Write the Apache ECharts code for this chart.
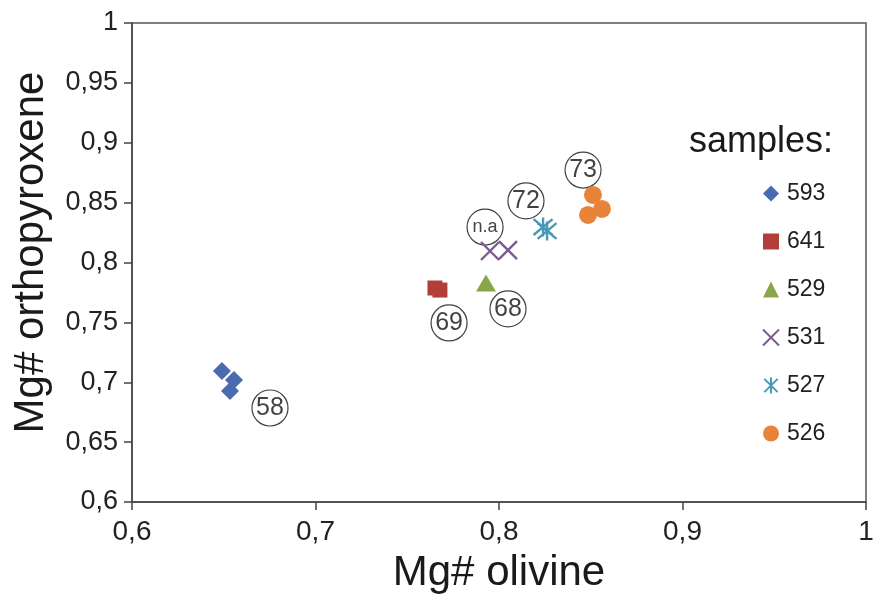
<!DOCTYPE html>
<html>
<head>
<meta charset="utf-8">
<style>
  html, body { margin: 0; padding: 0; background: #fff; }
  #chart { width: 878px; height: 597px; }
</style>
<script src="https://cdn.jsdelivr.net/npm/echarts@6/dist/echarts.min.js"></script>
</head>
<body>
<div id="chart"></div>
<script>
// sample names, in legend order
var sampleNames = ['593', '641', '529', '531', '527', '526'];

// Mg# olivine / Mg# orthopyroxene for each sample
var olivine593 = [0.649, 0.6556, 0.6534];
var opx593 = [0.7094, 0.7019, 0.6927];
var olivine641 = [0.7651, 0.7678];
var opx641 = [0.7787, 0.777];
var olivine529 = [0.7929];
var opx529 = [0.7829];
var olivine531 = [0.7951, 0.8049];
var opx531 = [0.8096, 0.8104];
var olivine527 = [0.824, 0.8262];
var opx527 = [0.8296, 0.8263];
var olivine526 = [0.8512, 0.8485, 0.8561];
var opx526 = [0.8564, 0.8397, 0.8447];

// circled numbers next to the groups
var noteText = ['58', '69', '68', 'n.a', '72', '73'];
var noteX = [0.6752, 0.7728, 0.8049, 0.7924, 0.8147, 0.8458];
var noteY = [0.6785, 0.7495, 0.7612, 0.8296, 0.8514, 0.8772];

var sampleX = [olivine593, olivine641, olivine529, olivine531, olivine527, olivine526];
var sampleY = [opx593, opx641, opx529, opx531, opx527, opx526];

var colors = ['#4a6baf', '#b23e3a', '#8aa64a', '#7d5b91', '#4a98b8', '#e8843a'];
var symbols = [
  'path://M5,0L10,5L5,10L0,5Z',
  'rect',
  'triangle',
  'path://M0,0L10,10M10,0L0,10',
  'path://M0,0L10,10M10,0L0,10M5,-1L5,11',
  'circle'
];
var sizes = [18, 15, [20, 17], 18, 19, 18];
var stroked = [false, false, false, true, true, false];

function pairs(xs, ys) {
  return xs.map(function (x, i) { return [x, ys[i]]; });
}

function comma(v) {
  return String(+v.toFixed(2)).replace('.', ',');
}

var font = 'Liberation Sans, Arial, sans-serif';

var series = [{
  name: 'notes',
  type: 'scatter',
  symbol: 'circle',
  symbolSize: 36,
  z: 1,
  itemStyle: { color: '#fff', borderColor: '#111', borderWidth: 1.2 },
  label: {
    show: true,
    position: 'inside',
    color: '#111',
    fontFamily: font,
    fontSize: 25,
    formatter: function (p) { return noteText[p.dataIndex]; }
  },
  data: pairs(noteX, noteY).map(function (d, i) {
    return noteText[i] === 'n.a'
      ? { value: d, label: { fontSize: 18 } }
      : d;
  })
}];

sampleNames.forEach(function (name, i) {
  series.push({
    name: name,
    type: 'scatter',
    symbol: symbols[i],
    symbolSize: sizes[i],
    z: 3,
    itemStyle: stroked[i]
      ? { color: 'rgba(0,0,0,0)', borderColor: colors[i], borderWidth: 2.4, opacity: 1 }
      : { color: colors[i], opacity: 1 },
    data: pairs(sampleX[i], sampleY[i])
  });
});

var chart = echarts.init(document.getElementById('chart'));
chart.setOption({
  animation: false,
  title: {
    text: 'samples:',
    left: 684,
    top: 119,
    textStyle: { fontFamily: font, fontSize: 36, fontWeight: 'normal', color: '#1a1a1a' }
  },
  legend: {
    data: sampleNames,
    orient: 'vertical',
    left: 757,
    top: 177,
    itemWidth: 16,
    itemHeight: 16,
    itemGap: 25,
    textStyle: {
      fontFamily: font,
      fontSize: 23,
      color: '#222',
      padding: [0, 0, 0, 3]
    }
  },
  grid: {
    left: 132,
    top: 23,
    right: 12,
    bottom: 95,
    outerBoundsMode: 'none',
    show: true,
    borderColor: '#555',
    borderWidth: 1.5
  },
  xAxis: {
    type: 'value',
    min: 0.6,
    max: 1,
    interval: 0.1,
    name: 'Mg# olivine',
    nameLocation: 'middle',
    nameGap: 50,
    nameTextStyle: { fontFamily: font, fontSize: 42, color: '#1a1a1a' },
    axisLine: { lineStyle: { color: '#444', width: 1.5 } },
    axisTick: { inside: false, length: 8, lineStyle: { color: '#444', width: 1.5 } },
    axisLabel: {
      margin: 16,
      fontFamily: font,
      fontSize: 28,
      color: '#222',
      formatter: comma
    },
    splitLine: { show: false }
  },
  yAxis: {
    type: 'value',
    min: 0.6,
    max: 1,
    interval: 0.05,
    name: 'Mg# orthopyroxene',
    nameLocation: 'middle',
    nameGap: 80,
    nameTextStyle: { fontFamily: font, fontSize: 42, color: '#1a1a1a', padding: [0, 0, 0, 20] },
    axisLine: { lineStyle: { color: '#444', width: 1.5 } },
    axisTick: { inside: false, length: 8, lineStyle: { color: '#444', width: 1.5 } },
    axisLabel: {
      margin: 14,
      fontFamily: font,
      fontSize: 27,
      color: '#222',
      formatter: comma
    },
    splitLine: { show: false }
  },
  series: series
});
</script>
</body>
</html>
